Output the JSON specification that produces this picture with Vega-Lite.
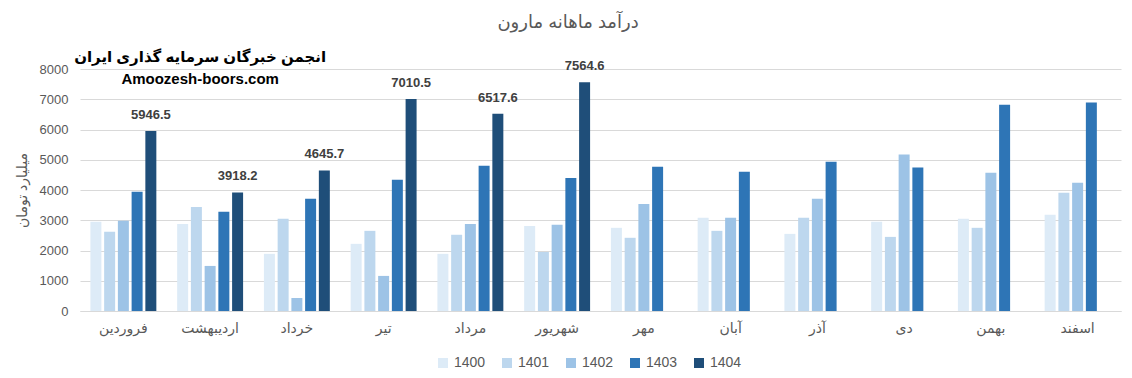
{
  "$schema": "https://vega.github.io/schema/vega-lite/v6.json",
  "width": 1132,
  "height": 378,
  "autosize": {"type": "fit", "contains": "padding"},
  "padding": {"left": 15, "right": 11, "top": 6, "bottom": 43},
  "background": "white",
  "title": {
    "text": "درآمد ماهانه مارون",
    "font": "Liberation Sans, DejaVu Sans",
    "fontSize": 18,
    "fontWeight": "normal",
    "color": "#595959",
    "anchor": "middle",
    "frame": "bounds",
    "offset": 18
  },
  "datasets": {
    "bars": [
      {"month": "فروردین", "year": "1400", "value": 2950},
      {"month": "فروردین", "year": "1401", "value": 2620},
      {"month": "فروردین", "year": "1402", "value": 2980},
      {"month": "فروردین", "year": "1403", "value": 3940},
      {"month": "فروردین", "year": "1404", "value": 5946.5},
      {"month": "اردیبهشت", "year": "1400", "value": 2880},
      {"month": "اردیبهشت", "year": "1401", "value": 3440},
      {"month": "اردیبهشت", "year": "1402", "value": 1490},
      {"month": "اردیبهشت", "year": "1403", "value": 3280},
      {"month": "اردیبهشت", "year": "1404", "value": 3918.2},
      {"month": "خرداد", "year": "1400", "value": 1890},
      {"month": "خرداد", "year": "1401", "value": 3050},
      {"month": "خرداد", "year": "1402", "value": 430},
      {"month": "خرداد", "year": "1403", "value": 3710},
      {"month": "خرداد", "year": "1404", "value": 4645.7},
      {"month": "تیر", "year": "1400", "value": 2220},
      {"month": "تیر", "year": "1401", "value": 2650},
      {"month": "تیر", "year": "1402", "value": 1160},
      {"month": "تیر", "year": "1403", "value": 4340},
      {"month": "تیر", "year": "1404", "value": 7010.5},
      {"month": "مرداد", "year": "1400", "value": 1890},
      {"month": "مرداد", "year": "1401", "value": 2520},
      {"month": "مرداد", "year": "1402", "value": 2880},
      {"month": "مرداد", "year": "1403", "value": 4800},
      {"month": "مرداد", "year": "1404", "value": 6517.6},
      {"month": "شهریور", "year": "1400", "value": 2810},
      {"month": "شهریور", "year": "1401", "value": 1950},
      {"month": "شهریور", "year": "1402", "value": 2850},
      {"month": "شهریور", "year": "1403", "value": 4400},
      {"month": "شهریور", "year": "1404", "value": 7564.6},
      {"month": "مهر", "year": "1400", "value": 2750},
      {"month": "مهر", "year": "1401", "value": 2420},
      {"month": "مهر", "year": "1402", "value": 3540},
      {"month": "مهر", "year": "1403", "value": 4770},
      {"month": "آبان", "year": "1400", "value": 3080},
      {"month": "آبان", "year": "1401", "value": 2650},
      {"month": "آبان", "year": "1402", "value": 3080},
      {"month": "آبان", "year": "1403", "value": 4600},
      {"month": "آذر", "year": "1400", "value": 2550},
      {"month": "آذر", "year": "1401", "value": 3080},
      {"month": "آذر", "year": "1402", "value": 3710},
      {"month": "آذر", "year": "1403", "value": 4930},
      {"month": "دی", "year": "1400", "value": 2950},
      {"month": "دی", "year": "1401", "value": 2450},
      {"month": "دی", "year": "1402", "value": 5170},
      {"month": "دی", "year": "1403", "value": 4740},
      {"month": "بهمن", "year": "1400", "value": 3050},
      {"month": "بهمن", "year": "1401", "value": 2750},
      {"month": "بهمن", "year": "1402", "value": 4570},
      {"month": "بهمن", "year": "1403", "value": 6820},
      {"month": "اسفند", "year": "1400", "value": 3180},
      {"month": "اسفند", "year": "1401", "value": 3910},
      {"month": "اسفند", "year": "1402", "value": 4240},
      {"month": "اسفند", "year": "1403", "value": 6890}
    ],
    "marks": [
      {"month": "اردیبهشت", "value": 8410, "label": "انجمن خبرگان سرمایه گذاری ایران"},
      {"month": "اردیبهشت", "value": 7680, "label": "Amoozesh-boors.com"}
    ]
  },
  "encoding": {
    "x": {"field": "month", "type": "nominal", "sort": ["فروردین", "اردیبهشت", "خرداد", "تیر", "مرداد", "شهریور", "مهر", "آبان", "آذر", "دی", "بهمن", "اسفند"], "scale": {"paddingInner": 0.24, "paddingOuter": 0.12}, "axis": {"title": null, "labelAngle": 0, "labelPadding": 10, "ticks": false, "domainColor": "#D9D9D9", "grid": false, "labelFontSize": 14}},
    "y": {"field": "value", "type": "quantitative", "scale": {"domain": [0, 8000], "nice": false}, "axis": {"title": "میلیارد تومان", "values": [0, 1000, 2000, 3000, 4000, 5000, 6000, 7000, 8000], "tickCount": 9, "format": "d", "labelOverlap": false, "ticks": false, "domain": false, "labelPadding": 12, "titlePadding": 10, "gridColor": "#D9D9D9", "titleFontSize": 14}}
  },
  "layer": [
    {
      "data": {"name": "bars"},
      "mark": {"type": "bar"},
      "encoding": {
        "xOffset": {"field": "year", "type": "nominal", "scale": {"paddingInner": 0.2}},
        "color": {"field": "year", "type": "nominal", "scale": {"domain": ["1400", "1401", "1402", "1403", "1404"], "range": ["#DDEBF7", "#BDD7EE", "#9DC3E6", "#2E75B6", "#1F4E79"]}, "legend": {"title": null, "orient": "none", "legendX": 356, "legendY": 287, "direction": "horizontal", "symbolType": "square", "symbolSize": 100, "symbolStrokeWidth": 0, "labelFontSize": 14, "labelColor": "#595959", "columnPadding": 14}}
      }
    },
    {
      "data": {"name": "bars"},
      "transform": [{"filter": "datum.year === '1404'"}],
      "mark": {"type": "text", "dy": -16, "fontWeight": "bold", "fontSize": 13, "color": "#404040", "font": "Liberation Sans, DejaVu Sans"},
      "encoding": {
        "xOffset": {"field": "year", "type": "nominal"},
        "text": {"field": "value", "type": "quantitative", "format": ".1f"}
      }
    },
    {
      "data": {"name": "marks"},
      "mark": {"type": "text", "fontWeight": "bold", "fontSize": 15, "color": "#000000", "font": "Liberation Sans, DejaVu Sans", "dx": -10},
      "encoding": {
        "text": {"field": "label"}
      }
    }
  ],
  "config": {
    "view": {"stroke": null},
    "font": "Liberation Sans, DejaVu Sans",
    "axis": {"labelFont": "Liberation Sans, DejaVu Sans", "labelFontSize": 13, "labelColor": "#595959", "titleFont": "Liberation Sans, DejaVu Sans", "titleFontSize": 13, "titleFontWeight": "normal", "titleColor": "#595959"},
    "legend": {"labelFont": "Liberation Sans, DejaVu Sans"}
  }
}
